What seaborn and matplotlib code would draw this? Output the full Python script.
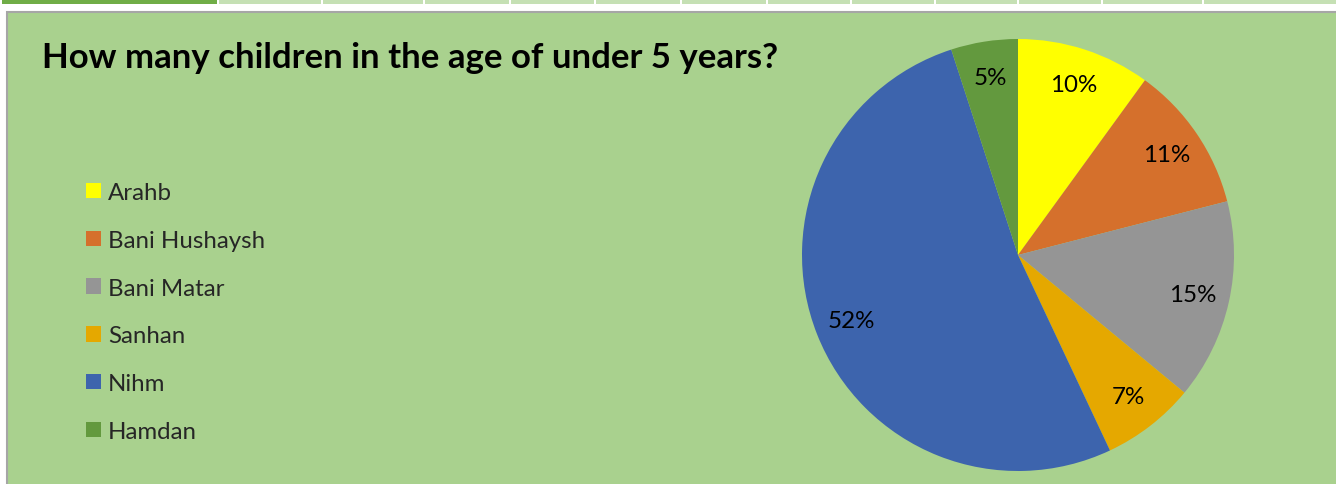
import matplotlib
matplotlib.use("Agg")
import matplotlib.pyplot as plt
import matplotlib.patches as mpatches
import seaborn as sns

# ---- data ----
categories = ["Arahb", "Bani Hushaysh", "Bani Matar", "Sanhan", "Nihm", "Hamdan"]
values = [10, 11, 15, 7, 52, 5]
colors = ["#FFFF00", "#D5702C", "#959595", "#E5A800", "#3D64AD", "#63993E"]
title = "How many children in the age of under 5 years?"

sns.set_theme(style="white")
plt.rcParams['font.family'] = ['Lato', 'DejaVu Sans']

W, H = 1336, 485
fig = plt.figure(figsize=(W / 100, H / 100), dpi=100)
fig.patch.set_facecolor("white")

def fx(x):
    return x / W

def fy(y):
    return 1 - y / H

# top spreadsheet-like strip
edges = [2, 219, 323, 425, 511, 596, 682, 768, 852, 936, 1019, 1103, 1204, 1340]
for i in range(len(edges) - 1):
    x0 = edges[i]
    x1 = edges[i + 1] - 2
    col = "#70AD47" if i == 0 else "#C5E0B4"
    fig.add_artist(mpatches.Rectangle((fx(x0), fy(5)), fx(x1 - x0), 5 / H,
                                      transform=fig.transFigure, facecolor=col,
                                      edgecolor="none", zorder=0))

# chart area
fig.add_artist(mpatches.Rectangle((fx(7), fy(490)), fx(1340 - 7), (490 - 13) / H,
                                  transform=fig.transFigure, facecolor="#A9D18E",
                                  edgecolor="#A6A6A6", linewidth=1.5, zorder=0))

# title
fig.text(fx(42), fy(58), title, fontsize=25, fontweight="bold", color="black",
         ha="left", va="center")

# pie
R = 216
cx, cy = 1018, 256
ax = fig.add_axes([fx(cx - R), fy(cy + R), 2 * R / W, 2 * R / H])
pal = sns.color_palette(colors)
wedges, texts, autotexts = ax.pie(values, colors=pal, startangle=90, counterclock=False,
                                  autopct=lambda p: f"{p:.0f}%", pctdistance=0.83,
                                  wedgeprops=dict(linewidth=0),
                                  textprops=dict(fontsize=17.4, color="black"))
ax.set_xlim(-1, 1)
ax.set_ylim(-1, 1)
ax.set_aspect("equal")
ax.axis("off")

# legend
handles = [mpatches.Patch(facecolor=c, edgecolor="none") for c in pal]
leg = fig.legend(handles, categories, loc="upper left",
                 bbox_to_anchor=(fx(86), fy(183)), borderpad=0, borderaxespad=0,
                 frameon=False, fontsize=17.3, handlelength=0.62, handleheight=0.62,
                 handletextpad=0.3, labelspacing=1.115)

fig.savefig("out.png", dpi=100, facecolor=fig.get_facecolor())
